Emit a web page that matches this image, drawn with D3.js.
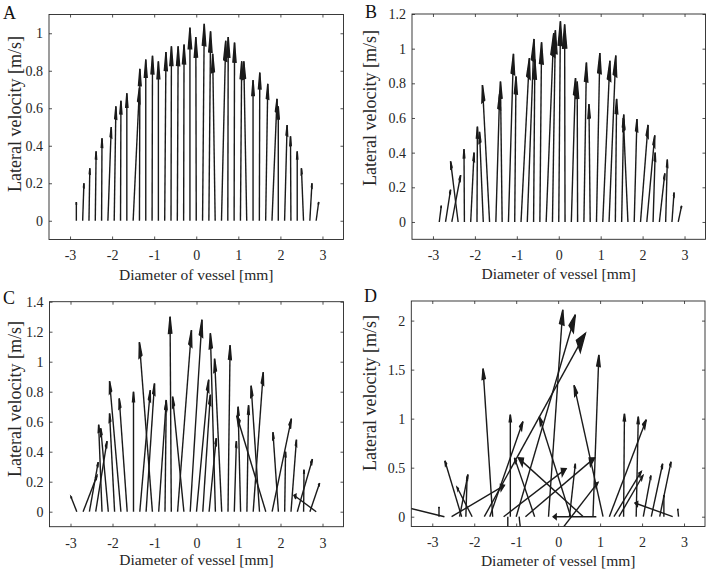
<!DOCTYPE html>
<html><head><meta charset="utf-8">
<script src="https://cdn.jsdelivr.net/npm/d3@7"></script>
<style>body{margin:0;background:#fff}svg{display:block}</style>
</head><body>
<svg id="c" width="709" height="570"></svg>
<script>
// ---------- data ----------
const xTicks = [-3,-2,-1,0,1,2,3];
const xTickLabels = ["-3","-2","-1","0","1","2","3"];
const xTitle = "Diameter of vessel [mm]";
const yTitle = "Lateral velocity [m/s]";

const yTicksA = [0,0.2,0.4,0.6,0.8,1];
const yTickLabelsA = ["0","0.2","0.4","0.6","0.8","1"];
const yTicksB = [0,0.2,0.4,0.6,0.8,1,1.2];
const yTickLabelsB = ["0","0.2","0.4","0.6","0.8","1","1.2"];
const yTicksC = [0,0.2,0.4,0.6,0.8,1,1.2,1.4];
const yTickLabelsC = ["0","0.2","0.4","0.6","0.8","1","1.2","1.4"];
const yTicksD = [0,0.5,1,1.5,2];
const yTickLabelsD = ["0","0.5","1","1.5","2"];

// Panel A: arrow tails (x), lateral (u) and vertical (v) components
const aX = [-2.85,-2.7,-2.55,-2.4,-2.25,-2.1,-1.95,-1.8,-1.65,-1.5,-1.35,-1.2,-1.05,-0.9,-0.75,-0.6,-0.45,-0.3,-0.15,0,0.15,0.3,0.45,0.6,0.75,0.9,1.05,1.2,1.35,1.5,1.65,1.8,1.95,2.1,2.25,2.4,2.55,2.7,2.85];
const aU = [0,0.03,0.02,0.02,0.01,0.08,0.04,0.01,0,0.15,0.01,0,0.01,0,0.03,0.01,0.02,0.01,0,-0.01,0.04,0.04,-0.06,0.1,0.01,0.01,0.03,-0.07,0,0.01,0.05,0.12,0,0.06,-0.01,0,-0.05,0.05,0.06];
const aV = [0.10,0.20,0.28,0.37,0.44,0.50,0.61,0.64,0.68,0.71,0.81,0.86,0.88,0.85,0.90,0.93,0.93,0.94,1.03,0.98,1.05,1.01,0.89,0.96,0.98,0.95,0.85,0.85,0.75,0.79,0.73,0.65,0.61,0.51,0.45,0.37,0.28,0.20,0.10];

// Panel B
const bX = [-2.85,-2.7,-2.55,-2.4,-2.25,-2.1,-1.95,-1.8,-1.65,-1.5,-1.35,-1.2,-1.05,-0.9,-0.75,-0.6,-0.45,-0.3,-0.15,0,0.15,0.3,0.45,0.6,0.75,0.9,1.05,1.2,1.35,1.5,1.65,1.8,1.95,2.1,2.25,2.4,2.55,2.7,2.85];
const bU = [0.05,0.12,0.21,-0.18,-0.01,0.08,0.01,-0.09,-0.17,0.09,-0.04,0.12,0.03,0.2,0.16,0.03,0.04,0.18,0.07,0.04,-0.01,0.1,-0.01,0.06,-0.03,0.08,0.17,0.16,0.03,0.05,-0.11,0.065,0.18,0.19,0.05,0.13,0.04,0.05,0.08];
const bV = [0.094,0.186,0.27,0.35,0.42,0.40,0.55,0.52,0.79,0.74,0.81,0.97,0.84,0.946,1.056,0.937,1.037,1.09,1.106,1.158,1.14,0.83,0.81,0.92,0.68,0.975,0.93,0.96,0.71,0.62,0.60,0.594,0.56,0.50,0.40,0.28,0.36,0.17,0.093];

// Panel C
const cX = [-2.85,-2.7,-2.55,-2.4,-2.25,-2.1,-1.95,-1.8,-1.65,-1.5,-1.35,-1.2,-1.05,-0.9,-0.75,-0.6,-0.45,-0.3,-0.15,0,0.15,0.3,0.45,0.6,0.75,0.9,1.05,1.2,1.35,1.5,1.65,1.8,1.95,2.1,2.25,2.4,2.55,2.7,2.85];
const cU = [-0.14,0.33,0.21,0.27,-0.08,-0.18,-0.12,-0.27,-0.19,0,0.25,0.2,-0.31,0.18,0.03,-0.03,0.33,-0.27,0.28,0.29,0.18,0.17,-0.12,-0.17,0.05,0.05,-0.06,0.04,0.24,-0.2,-0.69,0.46,-0.13,0.02,0.13,0.36,0.01,0.23,-0.53];
const cV = [0.10,0.24,0.33,0.47,0.58,0.556,0.655,0.87,0.755,0.80,0.81,0.855,1.13,0.74,0.745,1.3,1.21,0.767,1.28,0.88,0.78,0.49,1.19,1.02,1.11,0.47,0.70,0.71,0.93,0.84,0.64,0.62,0.53,0.40,0.48,0.35,0.28,0.19,0.11];

// Panel D (tails may sit slightly off the zero line)
const dX = [-2.71,-2.84,-2.3,-2.05,-2.35,-2.2,-2.54,-1.56,-1.76,-1.63,-1.14,-1.0,0.6,-0.56,-0.23,0.3,-1.3,0.27,-0.78,0.83,1.07,0.1,0.91,-1.2,-0.93,1.56,1.86,1.22,1.33,1.45,2.03,2.22,2.42,2.52,2.73,2.87];
const dY = [0,0,0,0,0,0,0,0,0,0,0,0,0,0,0,0,0,0,0,0,0,-0.12,0,0,0,0,0,0,0,0,0,0,0,0,0,0];
const dU = [-0.95,0,-0.4,-0.36,0.2,0.03,1.26,-0.23,2.41,0.79,0,1.41,-1.55,-0.48,0.34,-0.75,1.49,0.14,1.65,0.14,-0.69,0.85,-1.03,0,0.03,0.02,0.05,0.88,0.65,0.57,0.18,0.27,0.27,0,-0.9,-0.02];
const dV = [0.1,0.1,0.57,0.3,0.43,0.4,0.32,1.51,1.87,0.97,1.04,2.06,0.6,0.6,2.11,1.02,0.49,0.54,0.6,1.65,1.34,0.47,0,-0.12,-0.12,1.05,1.02,0.99,0.46,0.42,0.42,0.54,0.56,0.22,0.14,0.08];

// ---------- layout ----------
const FONT = "'Liberation Serif','Times New Roman',serif";
const INK = "#262626";
const ARROW = "#1a1a1a";

const panels = [
  {letter:"A", X:aX, Y:null, U:aU, V:aV, yd:[-0.1,1.1], yt:yTicksA, ytl:yTickLabelsA,
   xr:[49,343.5], yr:[239.5,14.5], alpha:0.11, lx:3, ly:18.5, ylx:21, yly:114, xly:280},
  {letter:"B", X:bX, Y:null, U:bU, V:bV, yd:[-0.1,1.2], yt:yTicksB, ytl:yTickLabelsB,
   xr:[412,705.5], yr:[239.3,14], alpha:0.12, lx:365, ly:17.5, ylx:376, yly:108, xly:279},
  {letter:"C", X:cX, Y:null, U:cU, V:cV, yd:[-0.1,1.4], yt:yTicksC, ytl:yTickLabelsC,
   xr:[49.5,343.5], yr:[526.7,301.7], alpha:0.085, lx:3, ly:304, ylx:21, yly:399, xly:565},
  {letter:"D", X:dX, Y:dY, U:dU, V:dV, yd:[-0.1,2.2], yt:yTicksD, ytl:yTickLabelsD,
   xr:[411.3,705], yr:[526.5,301], alpha:0.07, lx:364, ly:301.5, ylx:376, yly:393, xly:565.5}
];

const svg = d3.select("#c");
svg.append("rect").attr("width",709).attr("height",570).attr("fill","#fff");

function styleAxis(sel){
  sel.attr("font-family",FONT).attr("font-size",14).attr("color",INK);
  sel.select(".domain").remove();
  sel.selectAll(".tick line").attr("stroke-width",0.8);
  sel.selectAll("text").attr("fill",INK);
}

panels.forEach((p,pi)=>{
  const g = svg.append("g");
  const x = d3.scaleLinear().domain([-3.5,3.5]).range(p.xr);
  const y = d3.scaleLinear().domain(p.yd).range(p.yr);
  const clipId = "clip"+pi;
  svg.append("clipPath").attr("id",clipId).append("rect")
    .attr("x",p.xr[0]).attr("y",p.yr[1])
    .attr("width",p.xr[1]-p.xr[0]).attr("height",p.yr[0]-p.yr[1]);

  // axes
  g.append("g").attr("transform",`translate(0,${p.yr[0]})`)
    .call(d3.axisBottom(x).tickValues(xTicks).tickFormat((d,i)=>xTickLabels[i])
      .tickSizeInner(-3).tickSizeOuter(0).tickPadding(11)).call(styleAxis);
  g.append("g").attr("transform",`translate(0,${p.yr[1]})`)
    .call(d3.axisTop(x).tickValues(xTicks).tickFormat("")
      .tickSizeInner(-3).tickSizeOuter(0)).call(styleAxis);
  g.append("g").attr("transform",`translate(${p.xr[0]},0)`)
    .call(d3.axisLeft(y).tickValues(p.yt).tickFormat((d,i)=>p.ytl[i])
      .tickSizeInner(-3).tickSizeOuter(0).tickPadding(6)).call(styleAxis);
  g.append("g").attr("transform",`translate(${p.xr[1]},0)`)
    .call(d3.axisRight(y).tickValues(p.yt).tickFormat("")
      .tickSizeInner(-3).tickSizeOuter(0)).call(styleAxis);

  // arrows (MATLAB quiver-style heads computed in data space)
  const beta = 0.36, a = p.alpha;
  const data = p.X.map((x0,i)=>({x0, y0: p.Y ? p.Y[i] : 0, u:p.U[i], v:p.V[i]}));
  const ag = g.append("g").attr("clip-path",`url(#${clipId})`);
  ag.selectAll("line.shaft").data(data).join("line").attr("class","shaft")
    .attr("x1",d=>x(d.x0)).attr("y1",d=>y(d.y0))
    .attr("x2",d=>x(d.x0+d.u)).attr("y2",d=>y(d.y0+d.v))
    .attr("stroke",ARROW).attr("stroke-width",1.4).attr("stroke-linecap","butt");
  ag.selectAll("path.head").data(data).join("path").attr("class","head")
    .attr("d",d=>{
      const tx=d.x0+d.u, ty=d.y0+d.v;
      const l=[tx-a*(d.u+beta*d.v), ty-a*(d.v-beta*d.u)];
      const r=[tx-a*(d.u-beta*d.v), ty-a*(d.v+beta*d.u)];
      return `M${x(l[0])},${y(l[1])}L${x(tx)},${y(ty)}L${x(r[0])},${y(r[1])}Z`;
    })
    .attr("fill",ARROW).attr("stroke",ARROW).attr("stroke-width",1.4).attr("stroke-linejoin","miter");

  // box
  g.append("rect").attr("x",p.xr[0]).attr("y",p.yr[1])
    .attr("width",p.xr[1]-p.xr[0]).attr("height",p.yr[0]-p.yr[1])
    .attr("fill","none").attr("stroke",INK).attr("stroke-width",0.9);

  // titles
  g.append("text").attr("x",(p.xr[0]+p.xr[1])/2).attr("y",p.xly)
    .attr("text-anchor","middle").attr("font-family",FONT).attr("font-size",15.5).attr("fill",INK)
    .text(xTitle);
  g.append("text").attr("transform",`translate(${p.ylx},${p.yly}) rotate(-90)`)
    .attr("text-anchor","middle").attr("font-family",FONT).attr("font-size",18).attr("fill",INK)
    .text(yTitle);
  g.append("text").attr("x",p.lx).attr("y",p.ly)
    .attr("font-family",FONT).attr("font-size",18).attr("fill","#111")
    .text(p.letter);
});
</script>
</body></html>
